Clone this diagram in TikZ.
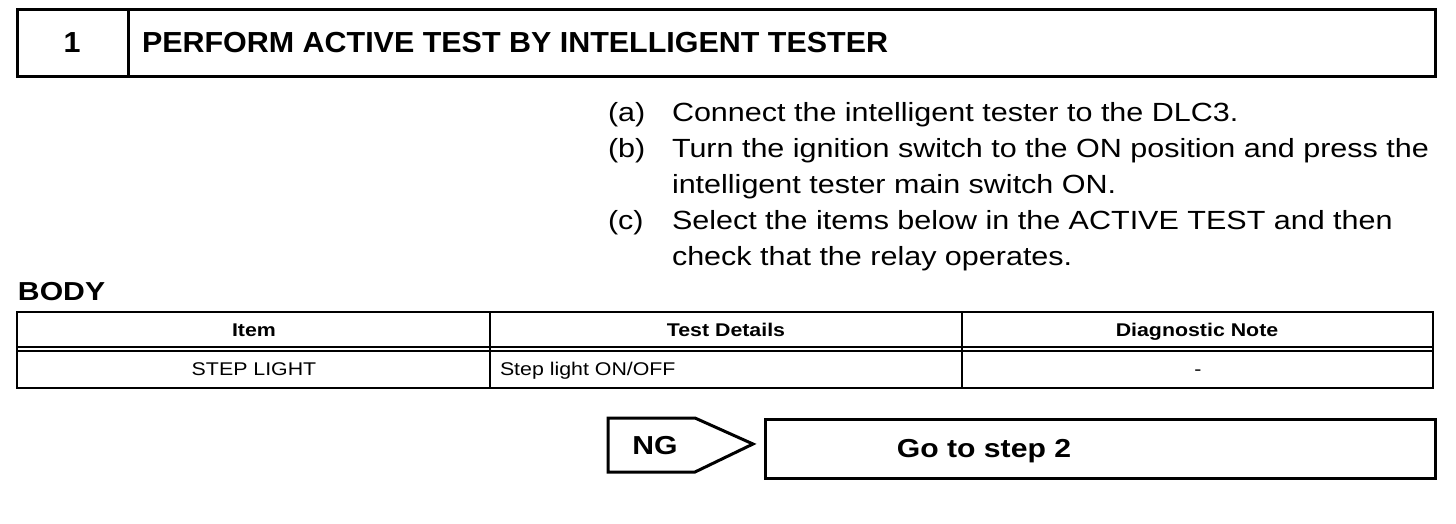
\documentclass[tikz,border=0pt]{standalone}
\usepackage{fontspec}
\setmainfont[FakeStretch=1.16]{Liberation Sans}
\newfontfamily\titlefont[FakeStretch=1.05]{Liberation Sans}
\usepackage{tikz}

\begin{document}
\begin{tikzpicture}[x=0.5pt,y=-0.5pt,
  every node/.style={inner sep=0pt, outer sep=0pt},
  frame/.style={line width=1.5pt},
  grid/.style={line width=1pt},
  title/.style={font=\titlefont\bfseries\fontsize{14.5pt}{17pt}\selectfont, anchor=base west},
  stepno/.style={font=\titlefont\bfseries\fontsize{14.5pt}{17pt}\selectfont, anchor=base},
  body/.style={font=\fontsize{13.15pt}{16pt}\selectfont, anchor=base west},
  cell/.style={font=\fontsize{9.2pt}{11pt}\selectfont, anchor=base},
  headcell/.style={font=\bfseries\fontsize{9.2pt}{11pt}\selectfont, anchor=base},
  big/.style={font=\bfseries\fontsize{13pt}{16pt}\selectfont, anchor=base}]
\useasboundingbox (0,0) rectangle (1456,524);

% Step header
\draw[frame] (17,10) rectangle (1435,77);
\draw[frame] (128,10) -- (128,77);
\node[stepno] (num) at (72,53) {1};
\node[title] (head) at (142,53) {PERFORM ACTIVE TEST BY INTELLIGENT TESTER};

% Procedure
\node[body] (la) at (608,121) {(a)};
\node[body] (ta) at (672,121) {Connect the intelligent tester to the DLC3.};
\node[body] (lb) at (608,157) {(b)};
\node[body] (tb) at (672,157) {Turn the ignition switch to the ON position and press the};
\node[body] (tb2) at (672,193) {intelligent tester main switch ON.};
\node[body] (lc) at (608,229) {(c)};
\node[body] (tc) at (672,229) {Select the items below in the ACTIVE TEST and then};
\node[body] (tc2) at (672,265) {check that the relay operates.};

% Table
\node[font=\bfseries\fontsize{13pt}{16pt}\selectfont, anchor=base west] (body) at (18,300) {BODY};
\draw[grid] (17,312) rectangle (1433,388);
\draw[grid] (17,347) -- (1433,347);
\draw[grid] (17,351) -- (1433,351);
\draw[grid] (490,312) -- (490,388);
\draw[grid] (962,312) -- (962,388);
\node[headcell] (h1) at (254,336) {Item};
\node[headcell] (h2) at (726,336) {Test Details};
\node[headcell] (h3) at (1197,336) {Diagnostic Note};
\node[cell] (c1) at (254,375) {STEP LIGHT};
\node[cell, anchor=base west] (c2) at (500,375) {Step light ON/OFF};
\node[cell] (c3) at (1198,375) {-};

% Result
\draw[frame] (608,418) -- (695,418) -- (753,444) -- (695,472) -- (608,472) -- cycle;
\node[big] (ng) at (655,454) {NG};
\draw[frame] (765,419) rectangle (1435,478);
\node[big] (go) at (984,457) {Go to step 2};
\end{tikzpicture}
\end{document}
